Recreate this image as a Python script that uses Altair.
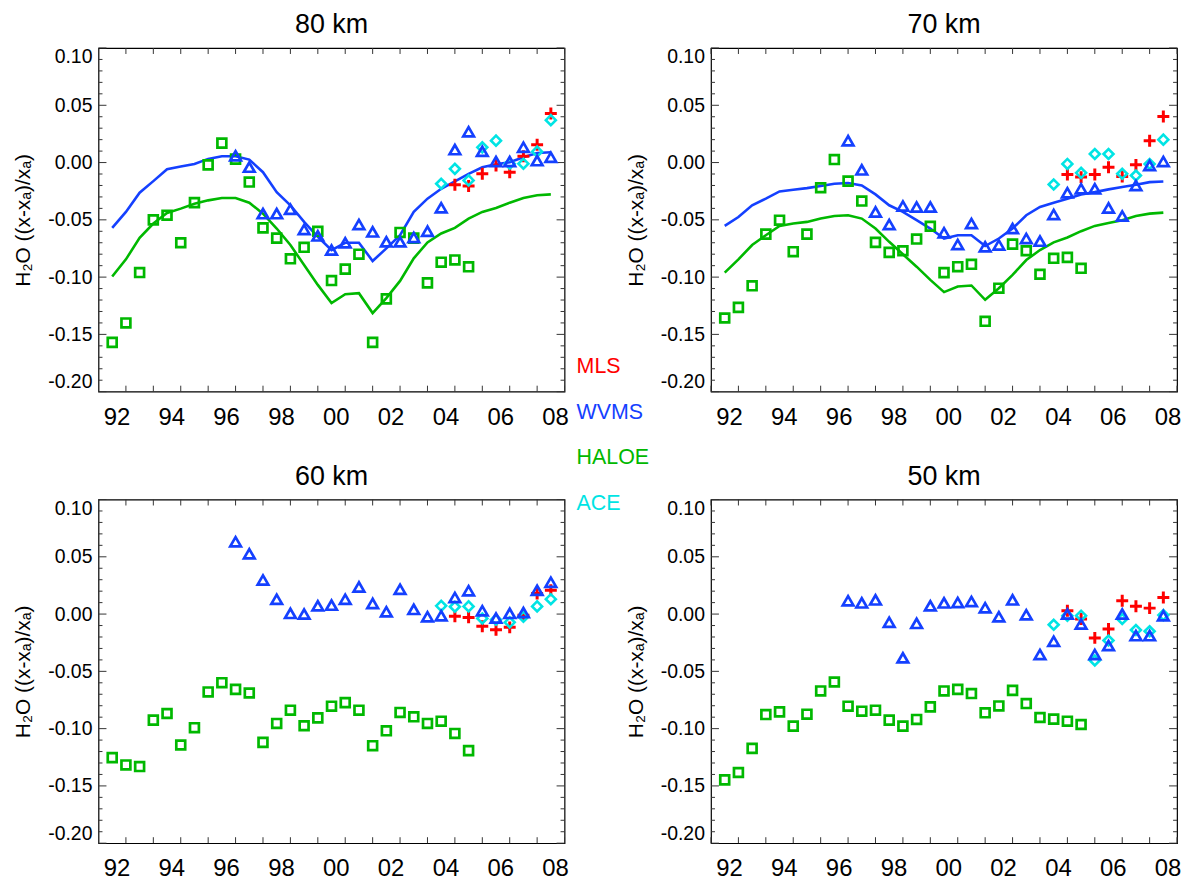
import altair as alt
import pandas as pd

FONT = "Liberation Sans"
SOURCES = ["MLS", "WVMS", "HALOE", "ACE"]
COLORS = ["#ff0000", "#1440ff", "#00b800", "#00e4e4"]
TICK_COLOR = "#333333"

YEAR_TICKS = [1991, 1992, 1993, 1994, 1995, 1996, 1997, 1998, 1999, 2000,
              2001, 2002, 2003, 2004, 2005, 2006, 2007, 2008]
Y_TICKS = [round(-0.20 + 0.01 * i, 2) for i in range(31)]

T_MODEL = [1991.5, 1992.0, 1992.5, 1993.0, 1993.5, 1994.0, 1994.5, 1995.0, 1995.5,
           1996.0, 1996.5, 1997.0, 1997.5, 1998.0, 1998.5, 1999.0, 1999.5, 2000.0,
           2000.5, 2001.0, 2001.5, 2002.0, 2002.5, 2003.0, 2003.5, 2004.0, 2004.5,
           2005.0, 2005.5, 2006.0, 2006.5, 2007.0, 2007.5]
T_HALOE = [1991.5, 1992.0, 1992.5, 1993.0, 1993.5, 1994.0, 1994.5, 1995.0, 1995.5,
           1996.0, 1996.5, 1997.0, 1997.5, 1998.0, 1998.5, 1999.0, 1999.5, 2000.0,
           2000.5, 2001.0, 2001.5, 2002.0, 2002.5, 2003.0, 2003.5, 2004.0, 2004.5]
T_WVMS = [1996.0, 1996.5, 1997.0, 1997.5, 1998.0, 1998.5, 1999.0, 1999.5, 2000.0,
          2000.5, 2001.0, 2001.5, 2002.0, 2002.5, 2003.0, 2003.5, 2004.0, 2004.5,
          2005.0, 2005.5, 2006.0, 2006.5, 2007.0, 2007.5]
T_MLS = [2004.0, 2004.5, 2005.0, 2005.5, 2006.0, 2006.5, 2007.0, 2007.5]
T_ACE = [2003.5, 2004.0, 2004.5, 2005.0, 2005.5, 2006.0, 2006.5, 2007.0, 2007.5]

# ---- 80 km ----
HALOE_80 = [-0.157, -0.140, -0.096, -0.050, -0.046, -0.070, -0.035, -0.002, 0.017,
            0.003, -0.017, -0.057, -0.066, -0.084, -0.074, -0.060, -0.103, -0.093,
            -0.080, -0.157, -0.119, -0.061, -0.066, -0.105, -0.087, -0.085, -0.091]
HALOE_LINE_80 = [-0.0995, -0.0845, -0.0657, -0.0532, -0.044, -0.0402, -0.0359, -0.033,
                 -0.031, -0.031, -0.035, -0.0446, -0.0576, -0.072, -0.0894, -0.1068,
                 -0.1227, -0.1149, -0.114, -0.1314, -0.1183, -0.1033, -0.0836, -0.0697,
                 -0.0619, -0.057, -0.0489, -0.0431, -0.0396, -0.035, -0.031, -0.0286,
                 -0.0278]
WVMS_LINE_80 = [-0.057, -0.0431, -0.0263, -0.0162, -0.0058, -0.0035, -0.0012, 0.0032,
                0.0055, 0.0055, 0.0026, -0.0084, -0.0258, -0.0373, -0.0518, -0.0648,
                -0.0764, -0.070, -0.070, -0.0859, -0.0749, -0.0634, -0.0431, -0.0315,
                -0.0229, -0.0165, -0.0098, -0.0041, -0.0014, 0.0003, 0.0046, 0.0084,
                0.009]
WVMS_80 = [0.006, -0.004, -0.0446, -0.0446, -0.0408, -0.0584, -0.064, -0.0764, -0.070,
           -0.0541, -0.0605, -0.0692, -0.0692, -0.0654, -0.0599, -0.0394, 0.0113,
           0.0269, 0.0098, 0.0009, 0.0009, 0.0133, 0.0017, 0.0046]
MLS_80 = [-0.0194, -0.0205, -0.0098, -0.0026, -0.0084, 0.0055, 0.0156, 0.0428]
ACE_80 = [-0.0185, -0.0055, -0.0156, 0.0133, 0.0191, -0.001, -0.001, 0.0095, 0.037]

# ---- 70 km ----
HALOE_70 = [-0.1357, -0.1264, -0.1076, -0.0625, -0.0503, -0.0778, -0.0625, -0.022,
            0.0026, -0.0162, -0.0336, -0.0697, -0.0784, -0.077, -0.0668, -0.0556,
            -0.0961, -0.0909, -0.0888, -0.1386, -0.1097, -0.0712, -0.077, -0.0975,
            -0.0836, -0.0828, -0.0923]
HALOE_LINE_70 = [-0.0961, -0.0845, -0.072, -0.0634, -0.0553, -0.0532, -0.0518, -0.0489,
                 -0.0466, -0.046, -0.0489, -0.0576, -0.0692, -0.0801, -0.0909, -0.1024,
                 -0.1131, -0.1082, -0.1073, -0.1198, -0.1097, -0.0981, -0.0851, -0.0764,
                 -0.0697, -0.0654, -0.0599, -0.0553, -0.0527, -0.0503, -0.0466, -0.0446,
                 -0.0437]
WVMS_LINE_70 = [-0.0553, -0.0475, -0.0373, -0.0315, -0.0252, -0.0237, -0.0223, -0.0205,
                -0.0185, -0.0179, -0.020, -0.0278, -0.0373, -0.0431, -0.0503, -0.0576,
                -0.0663, -0.0634, -0.0634, -0.0729, -0.0663, -0.0576, -0.046, -0.0388,
                -0.035, -0.0315, -0.0278, -0.0258, -0.0234, -0.0214, -0.0194, -0.0171,
                -0.0165]
WVMS_70 = [0.0191, -0.0064, -0.0431, -0.0541, -0.0379, -0.0388, -0.0388, -0.0613,
           -0.0715, -0.0532, -0.0735, -0.072, -0.0576, -0.0663, -0.0686, -0.0454,
           -0.0263, -0.0229, -0.0229, -0.0396, -0.0466, -0.020, -0.0026, 0.0009]
MLS_70 = [-0.0104, -0.0127, -0.0104, -0.0041, -0.0122, -0.002, 0.0191, 0.0402]
ACE_70 = [-0.0191, -0.0012, -0.009, 0.0075, 0.0075, -0.0098, -0.0113, -0.0012, 0.020]

# ---- 60 km ----
HALOE_60 = [-0.1253, -0.1317, -0.1331, -0.0926, -0.0868, -0.1143, -0.0992, -0.068,
            -0.0599, -0.0657, -0.0689, -0.112, -0.0955, -0.0839, -0.0975, -0.0906,
            -0.0804, -0.0773, -0.0839, -0.1149, -0.1019, -0.0859, -0.0897, -0.0955,
            -0.0935, -0.1042, -0.1192]
WVMS_60 = [0.0631, 0.0527, 0.0298, 0.013, 0.0006, 0.0, 0.0072, 0.0078, 0.013, 0.0237,
           0.0093, 0.002, 0.0217, 0.0041, -0.0023, -0.0014, 0.0145, 0.0203, 0.0029,
           -0.0035, 0.0006, 0.0014, 0.0208, 0.0278]
MLS_60 = [-0.002, -0.0029, -0.0107, -0.0136, -0.0116, -0.001, 0.0179, 0.0208]
ACE_60 = [0.0072, 0.0064, 0.0067, -0.0038, -0.0049, -0.0072, -0.0023, 0.0067, 0.013]

# ---- 50 km ----
HALOE_50 = [-0.1447, -0.1383, -0.1172, -0.0877, -0.0854, -0.0978, -0.0874, -0.0671,
            -0.0593, -0.0804, -0.0848, -0.0839, -0.0926, -0.0978, -0.092, -0.081,
            -0.0671, -0.0657, -0.0694, -0.0862, -0.0802, -0.0666, -0.0781, -0.0903,
            -0.0917, -0.0935, -0.0964]
WVMS_50 = [0.0116, 0.0098, 0.0124, -0.0072, -0.0382, -0.0081, 0.0072, 0.0098, 0.0101,
           0.011, 0.0055, -0.0023, 0.0124, -0.0006, -0.0353, -0.0237, 0.0, -0.0087,
           -0.0353, -0.0275, 0.0, -0.0188, -0.0188, -0.0014]
MLS_50 = [0.0029, -0.0043, -0.0208, -0.013, 0.0116, 0.0069, 0.0052, 0.0145]
ACE_50 = [-0.0093, -0.0014, -0.0014, -0.0405, -0.0231, -0.0043, -0.0139, -0.015, -0.0009]

PLOT_W = 468.4
PLOT_H = 345.4
Y_TITLE = "H\u2082O ((x-x\u2090)/x\u2090)"


def frame(times, values, source):
    return pd.DataFrame({"year": times, "value": values, "source": source})


X_SCALE = alt.Scale(domain=[1991, 2008], nice=False, zero=False)
Y_SCALE = alt.Scale(domain=[-0.2, 0.1], nice=False, zero=False)

LABEL_COLOR_EXPR = " : ".join(
    "datum.value === '%s' ? '%s'" % (s, c) for s, c in zip(SOURCES, COLORS)
) + " : 'black'"

LEGEND = alt.Legend(
    title=None, orient="none", legendX=459, legendY=310, direction="vertical",
    symbolSize=0, symbolStrokeWidth=0, symbolOpacity=0, labelOffset=0,
    labelFontSize=21.5, labelFont=FONT, rowPadding=22.7, padding=0,
    labelColor=alt.ExprRef(LABEL_COLOR_EXPR),
)
COLOR = alt.Color("source:N", scale=alt.Scale(domain=SOURCES, range=COLORS),
                  legend=LEGEND)

MAJOR = "abs(round(datum.value*100)) % 5 == 0"

X_BOTTOM = alt.Axis(
    orient="bottom", values=YEAR_TICKS, title=None, grid=False, domain=False,
    labelExpr="datum.value % 2 == 0 ? substring(toString(datum.value), 2, 4) : ''",
    labelFont=FONT, labelFontSize=24, labelColor="black", labelBaseline="alphabetic",
    labelPadding=32.5, labelOffset=-9.5, labelFlush=False, labelOverlap=False,
    labelBound=False, ticks=False, tickSize=0,
)
Y_LEFT = alt.Axis(
    orient="left", values=Y_TICKS, grid=False, domain=False,
    labelExpr=MAJOR + " ? replace(format(datum.value, '.2f'), '\u2212', '-') : ''",
    labelFont=FONT, labelFontSize=19.5, labelColor="black", labelPadding=6.6,
    labelFlush=True, labelOverlap=False, ticks=False, tickSize=0,
    title=Y_TITLE, titleFont=FONT, titleFontSize=21, titleFontWeight="normal",
    titleColor="black", titleX=-75, titleAlign="center", titleBaseline="middle",
)

X_TICK_DF = pd.DataFrame({"year": YEAR_TICKS})
Y_TICK_DF = pd.DataFrame({"value": Y_TICKS})


def tick_layers():
    """Inward-pointing ticks on all four sides of the frame (IDL style)."""
    xs = alt.X("year:Q", scale=X_SCALE, axis=None)
    ys = alt.Y("value:Q", scale=Y_SCALE, axis=None)
    rule = dict(color=TICK_COLOR, strokeWidth=1)
    x_base = alt.Chart(X_TICK_DF).mark_rule(**rule)
    y_major = alt.Chart(Y_TICK_DF).transform_filter(MAJOR).mark_rule(**rule)
    y_minor = alt.Chart(Y_TICK_DF).transform_filter("!(" + MAJOR + ")").mark_rule(**rule)
    return [
        x_base.encode(x=xs, y=alt.value(PLOT_H), y2=alt.value(PLOT_H - 6)),
        x_base.encode(x=xs, y=alt.value(0), y2=alt.value(6)),
        y_major.encode(y=ys, x=alt.value(0), x2=alt.value(8)),
        y_minor.encode(y=ys, x=alt.value(0), x2=alt.value(4)),
        y_major.encode(y=ys, x=alt.value(PLOT_W), x2=alt.value(PLOT_W - 8)),
        y_minor.encode(y=ys, x=alt.value(PLOT_W), x2=alt.value(PLOT_W - 4)),
    ]


def panel(title, haloe, wvms, mls, ace, haloe_line=None, wvms_line=None):
    layers = tick_layers()
    if haloe_line is not None:
        lines = pd.concat([frame(T_MODEL, haloe_line, "HALOE"),
                           frame(T_MODEL, wvms_line, "WVMS")])
        layers.append(
            alt.Chart(lines).mark_line(strokeWidth=2.6).encode(
                x=alt.X("year:Q", scale=X_SCALE, axis=None),
                y=alt.Y("value:Q", scale=Y_SCALE, axis=None),
                color=COLOR, detail="source:N",
            )
        )
    layers.append(
        alt.Chart(frame(T_HALOE, haloe, "HALOE")).mark_point(
            shape="square", filled=False, size=80, strokeWidth=2.7, opacity=1
        ).encode(
            x=alt.X("year:Q", scale=X_SCALE, axis=X_BOTTOM),
            y=alt.Y("value:Q", scale=Y_SCALE, axis=Y_LEFT),
            color=COLOR,
        )
    )
    layers.append(
        alt.Chart(frame(T_MLS, mls, "MLS")).mark_point(
            shape="M-1,0L1,0M0,-1L0,1", filled=False, size=144, strokeWidth=3, opacity=1
        ).encode(
            x=alt.X("year:Q", scale=X_SCALE, axis=None),
            y=alt.Y("value:Q", scale=Y_SCALE, axis=None),
            color=COLOR,
        )
    )
    layers.append(
        alt.Chart(frame(T_ACE, ace, "ACE")).mark_point(
            shape="diamond", filled=False, size=100, strokeWidth=2.6, opacity=1
        ).encode(
            x=alt.X("year:Q", scale=X_SCALE, axis=None),
            y=alt.Y("value:Q", scale=Y_SCALE, axis=None),
            color=COLOR,
        )
    )
    layers.append(
        alt.Chart(frame(T_WVMS, wvms, "WVMS")).mark_point(
            shape="triangle-up", filled=False, size=115, strokeWidth=2.7, opacity=1
        ).encode(
            x=alt.X("year:Q", scale=X_SCALE, axis=None),
            y=alt.Y("value:Q", scale=Y_SCALE, axis=None),
            color=COLOR,
        )
    )
    return alt.layer(*layers).resolve_axis(x="independent", y="independent").properties(
        width=PLOT_W, height=PLOT_H,
        title=alt.Title(title, fontSize=27, font=FONT, fontWeight="normal",
                        color="black", offset=8, anchor="middle"),
    )


p80 = panel("80 km", HALOE_80, WVMS_80, MLS_80, ACE_80, HALOE_LINE_80, WVMS_LINE_80)
p70 = panel("70 km", HALOE_70, WVMS_70, MLS_70, ACE_70, HALOE_LINE_70, WVMS_LINE_70)
p60 = panel("60 km", HALOE_60, WVMS_60, MLS_60, ACE_60)
p50 = panel("50 km", HALOE_50, WVMS_50, MLS_50, ACE_50)

chart = alt.concat(
    p80, p70, p60, p50, columns=2,
    spacing={"row": 107.8, "column": 146.6}, bounds="flush",
).properties(
    padding={"left": 12, "top": 8, "right": 5, "bottom": 5},
    background="white",
).configure_view(stroke="black", strokeWidth=1.2)

chart.save("out.html", embed_options={"renderer": "svg", "actions": False})
